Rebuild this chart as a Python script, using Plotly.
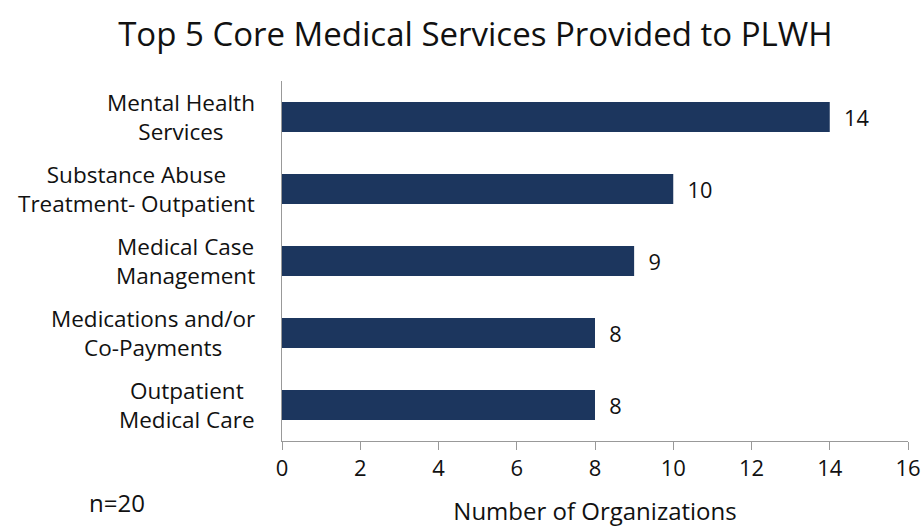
import plotly.graph_objects as go

categories = ["Mental Health<br>Services", "Substance Abuse<br>Treatment- Outpatient",
              "Medical Case<br>Management", "Medications and/or<br>Co-Payments",
              "Outpatient<br>Medical Care"]
values = [14, 10, 9, 8, 8]
x_ticks = [0, 2, 4, 6, 8, 10, 12, 14, 16]

FONT = "Open Sans"
BAR = "#1C365E"
TXT = "#111"

fig = go.Figure(go.Bar(
    x=values, y=categories, orientation="h",
    marker=dict(color=BAR, line=dict(width=0)),
    texttemplate="\u00a0\u00a0%{x}", textposition="outside",
    textfont=dict(family=FONT, size=23, color=TXT),
    cliponaxis=False,
))

annotations = [dict(x=-0.04, y=c, xref="paper", yref="y", text=c, showarrow=False,
                    xanchor="right", yanchor="middle", align="center",
                    font=dict(family=FONT, size=22.5, color=TXT)) for c in categories]
annotations.append(dict(x=-0.312, y=-0.172, xref="paper", yref="paper", text="n=20",
                        showarrow=False, xanchor="left", yanchor="middle",
                        font=dict(family=FONT, size=24, color=TXT)))

fig.update_layout(
    width=923, height=527,
    margin=dict(l=282, r=15, t=81, b=86),
    paper_bgcolor="white", plot_bgcolor="white",
    title=dict(text="Top 5 Core Medical Services Provided to PLWH", x=0.515, xref="container",
               xanchor="center", y=0.934, yref="container", yanchor="middle",
               font=dict(family=FONT, size=33, color=TXT), automargin=False),
    bargap=0.58,
    showlegend=False,
    annotations=annotations,
    xaxis=dict(range=[0, 16], tickvals=x_ticks, ticks="outside", ticklen=8,
               tickcolor="#999", showline=True, linecolor="#999", linewidth=1,
               showgrid=False, zeroline=False, automargin=False,
               tickfont=dict(family=FONT, size=22, color=TXT),
               title=dict(text="Number of Organizations", standoff=24,
                          font=dict(family=FONT, size=24, color=TXT))),
    yaxis=dict(autorange="reversed", showticklabels=False, showline=True,
               linecolor="#999", linewidth=1, showgrid=False, ticks="",
               automargin=False),
)

fig.write_html("out.html", config={"displayModeBar": False},
               post_script="document.body.style.margin='0';")
